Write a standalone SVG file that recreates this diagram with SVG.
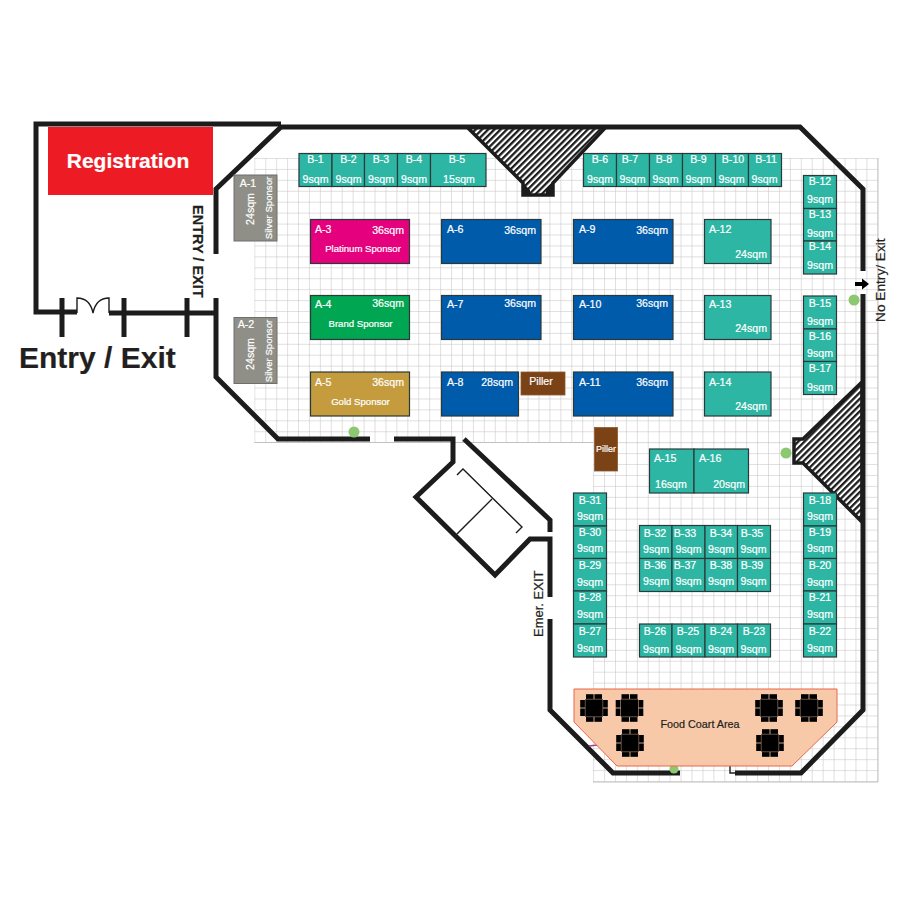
<svg xmlns="http://www.w3.org/2000/svg" width="900" height="900" viewBox="0 0 900 900">
<style>
text{font-family:"Liberation Sans",Arial,sans-serif;fill:#fff;stroke:#fff;stroke-width:.2px;font-size:10.6px}
.m{text-anchor:middle}.e{text-anchor:end}
text.k{fill:#231f20;stroke:#231f20}
.b{stroke:#2a3a3a;stroke-width:1.2}
.t{fill:#2db6a3}.bl{fill:#005bab}.gr{fill:#8f8f88;stroke:#6f6f6a;stroke-width:1}
.br{fill:#7b4216;stroke:#8a5a30;stroke-width:.8}
.w{fill:none;stroke:#1c1c1c;stroke-width:5;stroke-linejoin:miter}
.n{fill:none;stroke:#1c1c1c;stroke-width:1.4}
.s{font-size:9.6px}
.g{fill:#8cc870}
</style>
<defs>
<pattern id="grid" patternUnits="userSpaceOnUse" x="254.3" y="158" width="10.93" height="10.93">
<path d="M0 0V10.93M0 0H10.93" fill="none" stroke="#c4c0c0" stroke-width="1"/>
</pattern>
<pattern id="hatch" patternUnits="userSpaceOnUse" width="4.4" height="4.4" patternTransform="rotate(-45)">
<rect width="4.4" height="4.4" fill="#fff"/><rect width="4.4" height="2.3" fill="#1c1c1c"/>
</pattern>
<g id="table" fill="#000">
<rect x="-8.7" y="-8.7" width="17.4" height="17.4"/>
<rect x="-8" y="-13.8" width="7.6" height="4.7"/><rect x="0.4" y="-13.800" width="7.6" height="4.7"/>
<rect x="-8" y="9.1" width="7.6" height="4.7"/><rect x="0.4" y="9.1" width="7.6" height="4.7"/>
<rect x="-13.8" y="-8" width="4.7" height="7.6"/><rect x="-13.8" y="0.4" width="4.7" height="7.6"/>
<rect x="9.1" y="-8" width="4.7" height="7.6"/><rect x="9.1" y="0.4" width="4.7" height="7.6"/>
</g>
</defs>

<g id="floor-grid">
<rect x="254.3" y="158" width="623.7" height="284.500" fill="url(#grid)"/>
<rect x="593" y="442" width="285" height="340" fill="url(#grid)"/>
<path d="M254.300 442.500H593M593 782H878M878 158V782" fill="none" stroke="#c4c0c0" stroke-width="1"/>
</g>

<g id="registration"><rect x="48" y="127" width="165" height="68" fill="#ed1c24"/><text x="128" y="168" class="m" style="font-size:21px;font-weight:bold">Registration</text></g>

<g id="stairs-top"><path d="M467 127H606L553 183V195H523V183Z" fill="url(#hatch)" stroke="#1c1c1c" stroke-width="3.500"/><path d="M520 180L530 190V196H522V183ZM555 180L546 190V196H553V183Z" fill="#1c1c1c"/></g>
<g id="stairs-right"><path d="M862 382L803 439H794V463H803L862 522Z" fill="url(#hatch)" stroke="#1c1c1c" stroke-width="3.500"/></g>

<g id="walls">
<path class="w" d="M281 124H36V312H77M109 313H216"/>
<path class="w" d="M216 254V189L281 127H800L863 189V271"/>
<path class="w" d="M863 294V710L801 773H735"/>
<path class="w" d="M216 298V377L278 439H370"/>
<path class="w" d="M394 439H453V462L416 497L495 575L530 539H550V597"/>
<path class="w" d="M550 619V710L613 773H680"/>
<path class="w" d="M464 439L550 520V532"/>
<path class="w" d="M62 298V337M124 298V337M187 298V337"/>
<path class="n" d="M77 313V298Q90 298 93 313M109 313V298Q96 298 93 313"/>
<path class="n" d="M457 475L463 469L522 527L516 533M492 499L457 534"/>
<path class="n" d="M730 766V773H735"/>
<path d="M855 282H862V278.500L869 284L862 289.500V286H855Z" fill="#000"/>
<path d="M589 746L597 745L600 747" fill="none" stroke="#a0448c" stroke-width="1.500"/>
</g>

<g id="markers">
<circle class="g" cx="354" cy="432" r="5.500"/><circle class="g" cx="854" cy="300" r="5.500"/><circle class="g" cx="786" cy="453" r="5.500"/><circle class="g" cx="674" cy="769" r="4.500"/>
</g>

<g id="labels">
<text x="19" y="368" class="k" style="font-size:30px;font-weight:bold">Entry / Exit</text>
<text transform="translate(193 205) rotate(90)" class="k" style="font-size:14.5px;font-weight:bold">ENTRY / EXIT</text>
<text transform="translate(543 637) rotate(-90)" class="k" style="font-size:13px">Emer. EXIT</text>
<text transform="translate(885 322) rotate(-90)" class="k" style="font-size:13.700px">No Entry/ Exit</text>
</g>

<g id="A-1"><rect class="gr" x="234" y="175" width="43" height="66"/><text x="248" y="187" class="m">A-1</text><text transform="translate(254 209) rotate(-90)" class="m">24sqm</text><text transform="translate(272 208) rotate(-90)" class="m s">Silver Sponsor</text></g>
<g id="A-2"><rect class="gr" x="234" y="317.500" width="43" height="66"/><text x="246" y="328" class="m">A-2</text><text transform="translate(254 354) rotate(-90)" class="m">24sqm</text><text transform="translate(272 351) rotate(-90)" class="m s">Silver Sponsor</text></g>

<g id="A-3"><rect class="b" fill="#e5007e" x="310.500" y="219.500" width="99" height="44"/><text x="315" y="233">A-3</text><text x="404" y="234" class="e">36sqm</text><text x="363" y="252" class="m s">Platinum Sponsor</text></g>
<g id="A-4"><rect class="b" fill="#00a651" x="310.500" y="295.500" width="99" height="44"/><text x="315" y="308">A-4</text><text x="404" y="307" class="e">36sqm</text><text x="360.500" y="327" class="m s">Brand Sponsor</text></g>
<g id="A-5"><rect class="b" fill="#c49c3e" x="310.500" y="372" width="99" height="44"/><text x="315" y="386">A-5</text><text x="404" y="386" class="e">36sqm</text><text x="360.500" y="405" class="m s">Gold Sponsor</text></g>
<g id="A-6"><rect class="b bl" x="441.500" y="219.500" width="99.500" height="44"/><text x="447" y="233">A-6</text><text x="536" y="234" class="e">36sqm</text></g>
<g id="A-7"><rect class="b bl" x="441.500" y="295.500" width="99.500" height="44"/><text x="447" y="308">A-7</text><text x="536" y="307" class="e">36sqm</text></g>
<g id="A-8"><rect class="b bl" x="441.500" y="372" width="77" height="44"/><text x="447" y="386">A-8</text><text x="513" y="386" class="e">28sqm</text></g>
<g id="A-9"><rect class="b bl" x="573.500" y="219.500" width="99.500" height="44"/><text x="579" y="233">A-9</text><text x="668" y="234" class="e">36sqm</text></g>
<g id="A-10"><rect class="b bl" x="573.500" y="295.500" width="99.500" height="44"/><text x="579" y="308">A-10</text><text x="668" y="307" class="e">36sqm</text></g>
<g id="A-11"><rect class="b bl" x="573.500" y="372" width="99.500" height="44"/><text x="579" y="386">A-11</text><text x="668" y="386" class="e">36sqm</text></g>
<g id="A-12"><rect class="b t" x="704.500" y="219.500" width="66.500" height="44"/><text x="709" y="233">A-12</text><text x="767" y="258" class="e">24sqm</text></g>
<g id="A-13"><rect class="b t" x="704.500" y="295.500" width="66.500" height="44"/><text x="709" y="308">A-13</text><text x="767" y="332" class="e">24sqm</text></g>
<g id="A-14"><rect class="b t" x="704.500" y="372" width="66.500" height="44"/><text x="709" y="386">A-14</text><text x="767" y="410" class="e">24sqm</text></g>
<g id="A-15"><rect class="b t" x="649.500" y="449" width="44.500" height="44"/><text x="654" y="462">A-15</text><text x="655" y="488">16sqm</text></g>
<g id="A-16"><rect class="b t" x="694" y="449" width="54.500" height="44"/><text x="699" y="462">A-16</text><text x="745" y="488" class="e">20sqm</text></g>

<g id="piller-1"><rect class="br" x="521" y="372" width="44" height="23"/><text x="541" y="385" class="m">Piller</text></g>
<g id="piller-2"><rect class="br" x="594.500" y="427.500" width="23" height="43.500"/><text x="606" y="452" class="m" style="font-size:9px">Piller</text></g>

<g id="B-1"><rect class="b t" x="299" y="153.500" width="33" height="33"/><text x="315.500" y="163" class="m">B-1</text><text x="315.500" y="183" class="m">9sqm</text></g>
<g id="B-2"><rect class="b t" x="332" y="153.500" width="32.500" height="33"/><text x="348.500" y="163" class="m">B-2</text><text x="348.500" y="183" class="m">9sqm</text></g>
<g id="B-3"><rect class="b t" x="364.500" y="153.500" width="33" height="33"/><text x="381" y="163" class="m">B-3</text><text x="381" y="183" class="m">9sqm</text></g>
<g id="B-4"><rect class="b t" x="397.500" y="153.500" width="33" height="33"/><text x="414" y="163" class="m">B-4</text><text x="414" y="183" class="m">9sqm</text></g>
<g id="B-5"><rect class="b t" x="430.500" y="153.500" width="55.500" height="33"/><text x="457" y="163" class="m">B-5</text><text x="459" y="183" class="m">15sqm</text></g>
<g id="B-6"><rect class="b t" x="583.500" y="153.500" width="33" height="33"/><text x="600" y="163" class="m">B-6</text><text x="600" y="183" class="m">9sqm</text></g>
<g id="B-7"><rect class="b t" x="616.500" y="153.500" width="33" height="33"/><text x="630" y="163" class="m">B-7</text><text x="632.500" y="183" class="m">9sqm</text></g>
<g id="B-8"><rect class="b t" x="649.500" y="153.500" width="33" height="33"/><text x="664" y="163" class="m">B-8</text><text x="665.500" y="183" class="m">9sqm</text></g>
<g id="B-9"><rect class="b t" x="682.500" y="153.500" width="33" height="33"/><text x="698.500" y="163" class="m">B-9</text><text x="698.500" y="183" class="m">9sqm</text></g>
<g id="B-10"><rect class="b t" x="715.500" y="153.500" width="33" height="33"/><text x="733" y="163" class="m">B-10</text><text x="731.500" y="183" class="m">9sqm</text></g>
<g id="B-11"><rect class="b t" x="748.500" y="153.500" width="33" height="33"/><text x="766" y="163" class="m">B-11</text><text x="764.500" y="183" class="m">9sqm</text></g>

<g id="B-12"><rect class="b t" x="803.500" y="175.500" width="33" height="33"/><text x="820" y="185" class="m">B-12</text><text x="820" y="203" class="m">9sqm</text></g>
<g id="B-13"><rect class="b t" x="803.500" y="208.500" width="33" height="32.500"/><text x="820" y="218" class="m">B-13</text><text x="820" y="237" class="m">9sqm</text></g>
<g id="B-14"><rect class="b t" x="803.500" y="241" width="33" height="33"/><text x="820" y="250" class="m">B-14</text><text x="820" y="269" class="m">9sqm</text></g>
<g id="B-15"><rect class="b t" x="803.500" y="296" width="33" height="33"/><text x="820" y="307" class="m">B-15</text><text x="820" y="325" class="m">9sqm</text></g>
<g id="B-16"><rect class="b t" x="803.500" y="329" width="33" height="32.500"/><text x="820" y="340" class="m">B-16</text><text x="820" y="357" class="m">9sqm</text></g>
<g id="B-17"><rect class="b t" x="803.500" y="361.500" width="33" height="33"/><text x="820" y="372" class="m">B-17</text><text x="820" y="391" class="m">9sqm</text></g>

<g id="B-18"><rect class="b t" x="803.500" y="493" width="33" height="33"/><text x="820" y="504" class="m">B-18</text><text x="820" y="520" class="m">9sqm</text></g>
<g id="B-19"><rect class="b t" x="803.500" y="526" width="33" height="32.500"/><text x="820" y="536" class="m">B-19</text><text x="820" y="552" class="m">9sqm</text></g>
<g id="B-20"><rect class="b t" x="803.500" y="558.500" width="33" height="32.500"/><text x="820" y="569" class="m">B-20</text><text x="820" y="586" class="m">9sqm</text></g>
<g id="B-21"><rect class="b t" x="803.500" y="591" width="33" height="33"/><text x="820" y="601" class="m">B-21</text><text x="820" y="618" class="m">9sqm</text></g>
<g id="B-22"><rect class="b t" x="803.500" y="624" width="33" height="33"/><text x="820" y="635" class="m">B-22</text><text x="820" y="652" class="m">9sqm</text></g>

<g id="B-31"><rect class="b t" x="573.500" y="493" width="33" height="33"/><text x="590" y="504" class="m">B-31</text><text x="590" y="520" class="m">9sqm</text></g>
<g id="B-30"><rect class="b t" x="573.500" y="526" width="33" height="32.500"/><text x="590" y="536" class="m">B-30</text><text x="590" y="552" class="m">9sqm</text></g>
<g id="B-29"><rect class="b t" x="573.500" y="558.500" width="33" height="32.500"/><text x="590" y="569" class="m">B-29</text><text x="590" y="586" class="m">9sqm</text></g>
<g id="B-28"><rect class="b t" x="573.500" y="591" width="33" height="33"/><text x="590" y="601" class="m">B-28</text><text x="590" y="618" class="m">9sqm</text></g>
<g id="B-27"><rect class="b t" x="573.500" y="624" width="33" height="33"/><text x="590" y="635" class="m">B-27</text><text x="590" y="652" class="m">9sqm</text></g>

<g id="B-32"><rect class="b t" x="639.500" y="525.500" width="32.500" height="33"/><text x="655" y="537" class="m">B-32</text><text x="656" y="553" class="m">9sqm</text></g>
<g id="B-33"><rect class="b t" x="672" y="525.500" width="33" height="33"/><text x="685" y="537" class="m">B-33</text><text x="688.500" y="553" class="m">9sqm</text></g>
<g id="B-34"><rect class="b t" x="705" y="525.500" width="32.500" height="33"/><text x="721" y="537" class="m">B-34</text><text x="721" y="553" class="m">9sqm</text></g>
<g id="B-35"><rect class="b t" x="737.500" y="525.500" width="33" height="33"/><text x="752" y="537" class="m">B-35</text><text x="753.500" y="553" class="m">9sqm</text></g>
<g id="B-36"><rect class="b t" x="639.500" y="558.500" width="32.500" height="33"/><text x="655" y="569" class="m">B-36</text><text x="656" y="585" class="m">9sqm</text></g>
<g id="B-37"><rect class="b t" x="672" y="558.500" width="33" height="33"/><text x="685" y="569" class="m">B-37</text><text x="688.500" y="585" class="m">9sqm</text></g>
<g id="B-38"><rect class="b t" x="705" y="558.500" width="32.500" height="33"/><text x="721" y="569" class="m">B-38</text><text x="721" y="585" class="m">9sqm</text></g>
<g id="B-39"><rect class="b t" x="737.500" y="558.500" width="33" height="33"/><text x="752" y="569" class="m">B-39</text><text x="753.500" y="585" class="m">9sqm</text></g>
<g id="B-26"><rect class="b t" x="639.500" y="624" width="32.500" height="33"/><text x="655" y="635" class="m">B-26</text><text x="656" y="653" class="m">9sqm</text></g>
<g id="B-25"><rect class="b t" x="672" y="624" width="33" height="33"/><text x="688" y="635" class="m">B-25</text><text x="688.500" y="653" class="m">9sqm</text></g>
<g id="B-24"><rect class="b t" x="705" y="624" width="32.500" height="33"/><text x="721" y="635" class="m">B-24</text><text x="721" y="653" class="m">9sqm</text></g>
<g id="B-23"><rect class="b t" x="737.500" y="624" width="33" height="33"/><text x="754" y="635" class="m">B-23</text><text x="753.500" y="653" class="m">9sqm</text></g>

<g id="food-court">
<path d="M574 689H837V722L792 766H617L574 722Z" fill="#f7c9a8" stroke="#e8674a" stroke-width="1"/>
<use href="#table" x="594" y="708"/><use href="#table" x="629.500" y="708"/><use href="#table" x="769" y="708"/><use href="#table" x="809" y="708"/><use href="#table" x="630" y="743"/><use href="#table" x="770" y="743"/>
<text x="700" y="728" class="m k" style="font-size:10.800px">Food Coart Area</text>
</g>
</svg>
